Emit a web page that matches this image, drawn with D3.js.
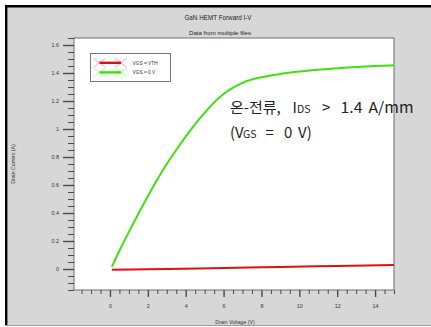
<!DOCTYPE html>
<html>
<head>
<meta charset="utf-8">
<script src="https://cdn.jsdelivr.net/npm/d3@7"></script>
<style>
  html, body { margin: 0; padding: 0; background: #ffffff; }
  svg { display: block; }
</style>
</head>
<body>
<svg id="chart" width="431" height="327"></svg>
<script>
// Drain voltage sweep points (V)
const vdsGreen = [0.1, 0.5, 1.0, 1.5, 2.0, 2.5, 3.0, 3.5, 4.0, 4.5, 5.0, 5.5, 6.0, 6.5, 7.0, 8.0, 9.0, 10.0, 11.0, 12.0, 13.0, 14.0, 15.0];
// Drain current at VGS = 0 V (A)
const idsOn = [0.015, 0.13, 0.265, 0.395, 0.52, 0.64, 0.75, 0.85, 0.945, 1.035, 1.115, 1.19, 1.25, 1.295, 1.33, 1.37, 1.393, 1.41, 1.423, 1.434, 1.443, 1.45, 1.455];
// Drain current at VGS = VTH (A)
const vdsRed = [0.1, 3, 6, 9, 12, 15];
const idsVth = [-0.006, 0.0, 0.008, 0.015, 0.022, 0.028];

const xTicks = [0, 2, 4, 6, 8, 10, 12, 14];
const yTicks = [0, 0.2, 0.4, 0.6, 0.8, 1, 1.2, 1.4, 1.6];
const legendLabels = ["VGS = VTH", "VGS = 0 V"];
const seriesColors = ["#e01010", "#3fe010"];
const crossColors = ["#f08a8a", "#9cef80"];

const svg = d3.select("#chart");
const W = 431, H = 327;
const plot = { left: 74, top: 38, right: 394, bottom: 290 };
const smallFont = "'Liberation Sans', Arial, sans-serif";

// Page background and frame
svg.append("rect").attr("x", 0).attr("y", 0).attr("width", W).attr("height", H).attr("fill", "#ffffff");
svg.append("rect").attr("x", 5).attr("y", 5).attr("width", W - 5).attr("height", 320).attr("fill", "#d7d7d7");
svg.append("line").attr("x1", 5).attr("x2", W).attr("y1", 6.2).attr("y2", 6.2).attr("stroke", "#000").attr("stroke-width", 2.4);
svg.append("line").attr("x1", 6.2).attr("x2", 6.2).attr("y1", 5).attr("y2", 325).attr("stroke", "#000").attr("stroke-width", 2.4);
svg.append("line").attr("x1", 5).attr("x2", W).attr("y1", 325.5).attr("y2", 325.5).attr("stroke", "#9a9a9a").attr("stroke-width", 1);

const x = d3.scaleLinear().domain([-1.9, 15]).range([plot.left, plot.right]);
const y = d3.scaleLinear().domain([-0.15, 1.65]).range([plot.bottom, plot.top]);

// Plot area
svg.append("rect")
  .attr("x", plot.left).attr("y", plot.top)
  .attr("width", plot.right - plot.left).attr("height", plot.bottom - plot.top)
  .attr("fill", "#ffffff").attr("stroke", "#6e6e6e").attr("stroke-width", 1);

// Titles
svg.append("text").attr("x", 218).attr("y", 19.5).attr("text-anchor", "middle")
  .attr("font-family", smallFont).attr("font-size", 6.3).attr("fill", "#222")
  .text("GaN HEMT Forward I-V");
svg.append("text").attr("x", 220).attr("y", 34.5).attr("text-anchor", "middle")
  .attr("font-family", smallFont).attr("font-size", 6.1).attr("fill", "#222")
  .text("Data from multiple files");

// Minor ticks
const yMinor = d3.range(-0.15, 1.651, 0.05).filter(v => Math.abs(Math.round(v / 0.2) * 0.2 - v) > 1e-6);
const xMinor = d3.range(-1.5, 15.01, 0.5).filter(v => Math.abs(Math.round(v / 2) * 2 - v) > 1e-6);

const yAxisMajor = d3.axisLeft(y).tickValues(yTicks).tickSize(11).tickPadding(4)
  .tickFormat(d => d3.format("~g")(d));
const yAxisMinor = d3.axisLeft(y).tickValues(yMinor).tickSize(6).tickFormat("");
const xAxisMajor = d3.axisBottom(x).tickValues(xTicks).tickSize(7).tickPadding(7).tickFormat(d3.format("d"));
const xAxisMinor = d3.axisBottom(x).tickValues(xMinor).tickSize(4).tickFormat("");

function styleAxis(g, width) {
  g.select(".domain").remove();
  g.selectAll("line").attr("stroke", "#4a4a4a").attr("stroke-width", width);
  g.selectAll("text").attr("font-family", smallFont).attr("font-size", 5.4).attr("fill", "#333");
}

svg.append("g").attr("transform", `translate(${plot.left},0)`).call(yAxisMinor).call(g => styleAxis(g, 1));
svg.append("g").attr("transform", `translate(${plot.left},0)`).call(yAxisMajor).call(g => styleAxis(g, 1.4));
svg.append("g").attr("transform", `translate(0,${plot.bottom})`).call(xAxisMinor).call(g => styleAxis(g, 1));
svg.append("g").attr("transform", `translate(0,${plot.bottom})`).call(xAxisMajor).call(g => styleAxis(g, 1.4));

// Axis titles
svg.append("text").attr("x", 235).attr("y", 323.5).attr("text-anchor", "middle")
  .attr("font-family", smallFont).attr("font-size", 5.2).attr("fill", "#333")
  .text("Drain Voltage (V)");
svg.append("text").attr("transform", "translate(15,164) rotate(-90)").attr("text-anchor", "middle")
  .attr("font-family", smallFont).attr("font-size", 5.2).attr("fill", "#333")
  .text("Drain Current (A)");

// Curves
const line = d3.line().x(d => x(d[0])).y(d => y(d[1])).curve(d3.curveMonotoneX);
svg.append("clipPath").attr("id", "plotClip").append("rect")
  .attr("x", plot.left).attr("y", plot.top).attr("width", plot.right - plot.left).attr("height", plot.bottom - plot.top);

svg.append("path").datum(d3.zip(vdsRed, idsVth))
  .attr("d", line).attr("fill", "none").attr("stroke", seriesColors[0]).attr("stroke-width", 2)
  .attr("clip-path", "url(#plotClip)");
svg.append("path").datum(d3.zip(vdsGreen, idsOn))
  .attr("d", line).attr("fill", "none").attr("stroke", seriesColors[1]).attr("stroke-width", 2)
  .attr("clip-path", "url(#plotClip)");

// Legend
const legend = svg.append("g").attr("transform", "translate(90.5,53.5)");
legend.append("rect").attr("width", 80).attr("height", 28)
  .attr("fill", "#ffffff").attr("stroke", "#7a7a7a").attr("stroke-width", 1);
legendLabels.forEach((lab, i) => {
  const cy = 9.3 + i * 9.6;
  const ends = [9, 30.5];
  ends.forEach(cx => {
    legend.append("line").attr("x1", cx - 6).attr("y1", cy - 4.5).attr("x2", cx + 6).attr("y2", cy + 4.5)
      .attr("stroke", crossColors[i]).attr("stroke-width", 0.7);
    legend.append("line").attr("x1", cx - 6).attr("y1", cy + 4.5).attr("x2", cx + 6).attr("y2", cy - 4.5)
      .attr("stroke", crossColors[i]).attr("stroke-width", 0.7);
  });
  legend.append("line").attr("x1", ends[0]).attr("x2", ends[1]).attr("y1", cy).attr("y2", cy)
    .attr("stroke", seriesColors[i]).attr("stroke-width", 2.4);
  legend.append("text").attr("x", 42).attr("y", cy + 1.8)
    .attr("font-family", smallFont).attr("font-size", 4.8).attr("fill", "#333")
    .text(lab);
});

// On-current annotation
const ann = svg.append("g").attr("font-family", "'Noto Sans CJK KR', 'Noto Sans', sans-serif")
  .attr("fill", "#222").attr("font-size", 15);
const l1 = ann.append("text").attr("y", 112.5);
l1.append("tspan").attr("x", 230).text("온-전류,");
l1.append("tspan").attr("x", 292.5).text("I");
l1.append("tspan").attr("x", 297).attr("font-size", 10.5).text("DS");
l1.append("tspan").attr("x", 322).text(">");
l1.append("tspan").attr("x", 340.5).attr("textLength", 22).attr("lengthAdjust", "spacingAndGlyphs").text("1.4");
l1.append("tspan").attr("x", 368.5).attr("textLength", 45).attr("lengthAdjust", "spacingAndGlyphs").text("A/mm");
const l2 = ann.append("text").attr("y", 137.5);
l2.append("tspan").attr("x", 230).text("(V");
l2.append("tspan").attr("x", 243).attr("font-size", 10.5).text("GS");
l2.append("tspan").attr("x", 265.5).text("=");
l2.append("tspan").attr("x", 284).text("0");
l2.append("tspan").attr("x", 298).text("V)");
</script>
</body>
</html>
